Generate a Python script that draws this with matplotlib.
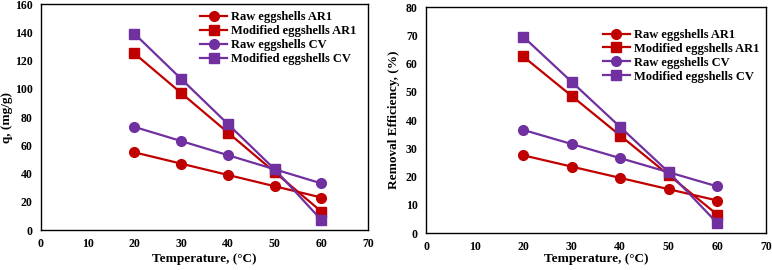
import matplotlib.pyplot as plt

plt.rcParams["font.family"] = ["Liberation Serif", "DejaVu Serif"]
plt.rcParams["font.weight"] = "bold"

temperature = [20, 30, 40, 50, 60]

# adsorption capacity q, mg/g
q_raw_ar1 = [55, 47, 39, 31, 23]
q_mod_ar1 = [125, 97, 69, 41, 13]
q_raw_cv = [73, 63, 53, 43, 33]
q_mod_cv = [139, 107, 75, 43, 7]

# removal efficiency, %
re_raw_ar1 = [27.5, 23.5, 19.5, 15.5, 11.5]
re_mod_ar1 = [62.5, 48.5, 34.5, 20.5, 6.5]
re_raw_cv = [36.5, 31.5, 26.5, 21.5, 16.5]
re_mod_cv = [69.5, 53.5, 37.5, 21.5, 3.5]

labels = ["Raw eggshells AR1", "Modified eggshells AR1",
          "Raw eggshells CV", "Modified eggshells CV"]
RED = "#C00000"
PURPLE = "#7030A0"
styles = [(RED, "o", 7), (RED, "s", 7.5), (PURPLE, "o", 7), (PURPLE, "s", 7.5)]


def draw(ax, series, ymax, ystep, ylabel, legend_anchor, ylabelpad, xlabelpad):
    for ys, label, (c, m, ms) in zip(series, labels, styles):
        ax.plot(temperature, ys, color=c, marker=m, markersize=ms, lw=1.6,
                label=label, clip_on=False, zorder=3)
    ax.set_xlim(0, 70)
    ax.set_ylim(0, ymax)
    ax.set_xticks(range(0, 71, 10))
    ax.set_yticks(range(0, ymax + 1, ystep))
    ax.tick_params(length=0, labelsize=8.5, pad=6)
    for lab in ax.get_xticklabels() + ax.get_yticklabels():
        lab.set_fontweight("bold")
    for sp in ax.spines.values():
        sp.set_linewidth(1.0)
    ax.set_xlabel("Temperature, (\u00b0C)", fontsize=9.5, fontweight="bold",
                  labelpad=xlabelpad)
    ax.set_ylabel(ylabel, fontsize=9.5, fontweight="bold", labelpad=ylabelpad)
    ax.legend(loc="upper left", bbox_to_anchor=legend_anchor, frameon=False,
              fontsize=9, handlelength=2.2, handletextpad=0.3,
              labelspacing=0.15, borderaxespad=0)


fig = plt.figure(figsize=(7.72, 2.7), dpi=100)
ax1 = fig.add_axes([0.053, 0.148, 0.424, 0.837])
ax2 = fig.add_axes([0.552, 0.137, 0.440, 0.837])

draw(ax1, [q_raw_ar1, q_mod_ar1, q_raw_cv, q_mod_cv], 160, 20,
     "q, (mg/g)", (0.47, 0.99), 1, 2)
draw(ax2, [re_raw_ar1, re_mod_ar1, re_raw_cv, re_mod_cv], 80, 10,
     "Removal Efficiency, (%)", (0.505, 0.925), 4, 0)

fig.savefig("out.png", dpi=100)
